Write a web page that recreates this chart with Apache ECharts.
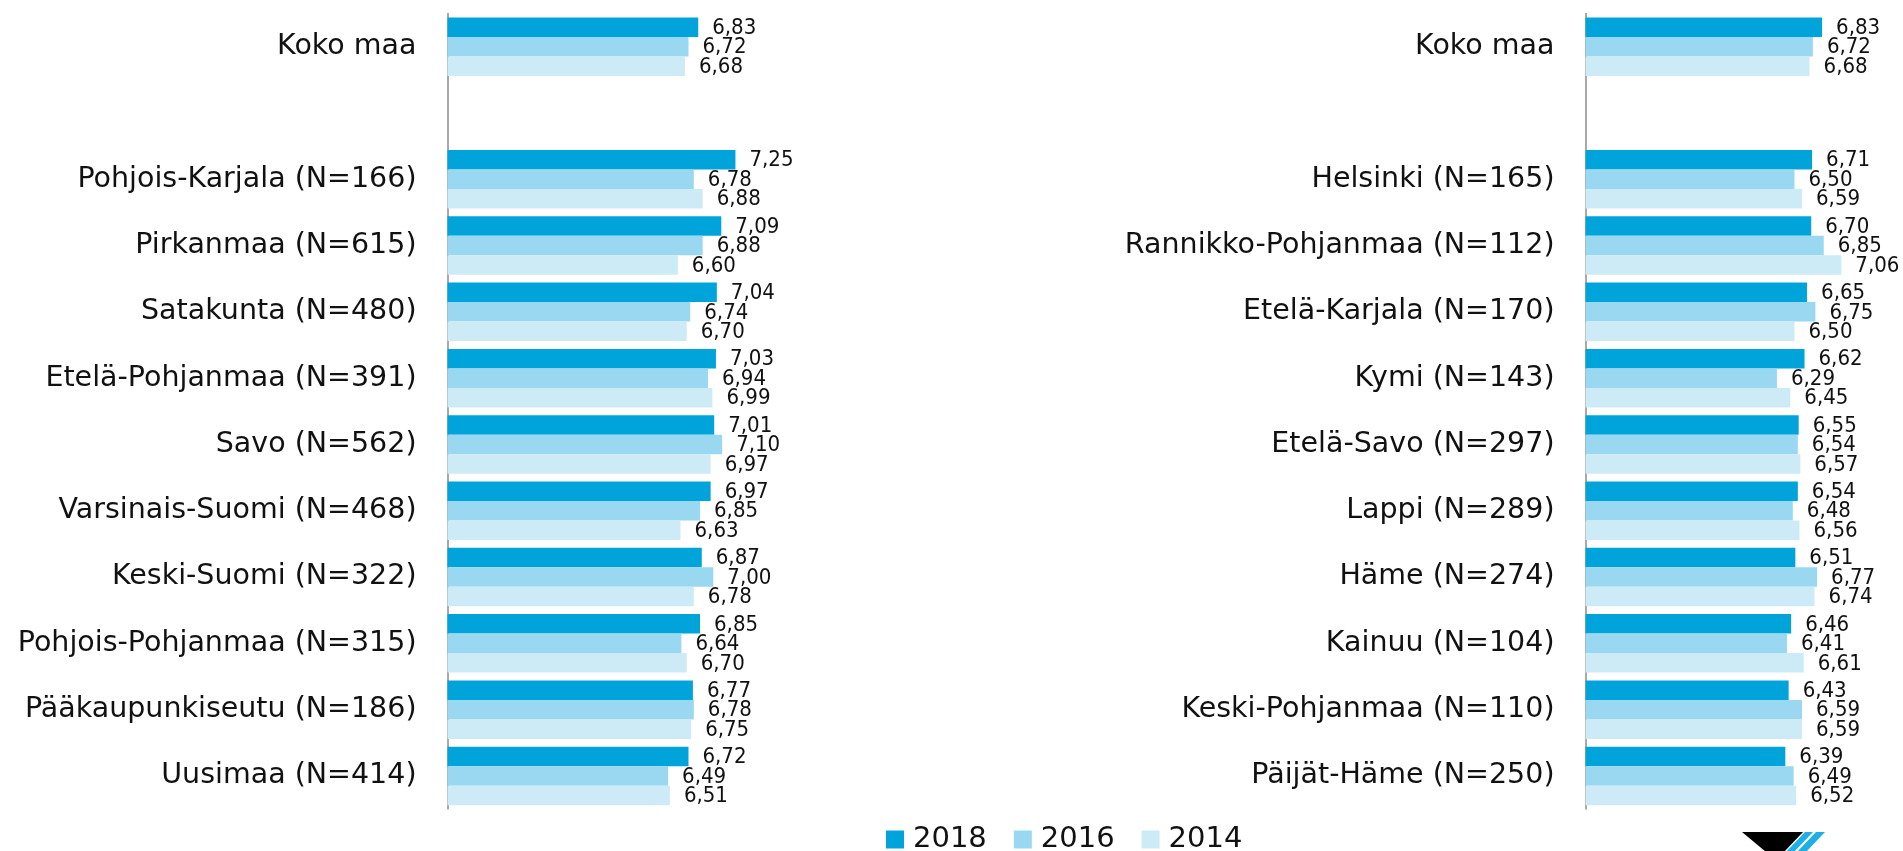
<!DOCTYPE html>
<html>
<head>
<meta charset="utf-8">
<script src="https://cdn.jsdelivr.net/npm/echarts@6/dist/echarts.min.js"></script>
<style>
  html, body { margin: 0; padding: 0; background: #fff; }
  #chart { width: 1903px; height: 851px; }
</style>
</head>
<body>
<div id="chart"></div>
<script>
// tiedot kuvasta luettuna
const years = ['2018', '2016', '2014']

const leftRegions = ['Koko maa', '', 'Pohjois-Karjala (N=166)', 'Pirkanmaa (N=615)', 'Satakunta (N=480)',
  'Etelä-Pohjanmaa (N=391)', 'Savo (N=562)', 'Varsinais-Suomi (N=468)', 'Keski-Suomi (N=322)',
  'Pohjois-Pohjanmaa (N=315)', 'Pääkaupunkiseutu (N=186)', 'Uusimaa (N=414)']
const left2018 = [6.83, null, 7.25, 7.09, 7.04, 7.03, 7.01, 6.97, 6.87, 6.85, 6.77, 6.72]
const left2016 = [6.72, null, 6.78, 6.88, 6.74, 6.94, 7.10, 6.85, 7.00, 6.64, 6.78, 6.49]
const left2014 = [6.68, null, 6.88, 6.60, 6.70, 6.99, 6.97, 6.63, 6.78, 6.70, 6.75, 6.51]

const rightRegions = ['Koko maa', '', 'Helsinki (N=165)', 'Rannikko-Pohjanmaa (N=112)', 'Etelä-Karjala (N=170)',
  'Kymi (N=143)', 'Etelä-Savo (N=297)', 'Lappi (N=289)', 'Häme (N=274)', 'Kainuu (N=104)',
  'Keski-Pohjanmaa (N=110)', 'Päijät-Häme (N=250)']
const right2018 = [6.83, null, 6.71, 6.70, 6.65, 6.62, 6.55, 6.54, 6.51, 6.46, 6.43, 6.39]
const right2016 = [6.72, null, 6.50, 6.85, 6.75, 6.29, 6.54, 6.48, 6.77, 6.41, 6.59, 6.49]
const right2014 = [6.68, null, 6.59, 7.06, 6.50, 6.45, 6.57, 6.56, 6.74, 6.61, 6.59, 6.52]

const colors = ['#00a4db', '#99d8f0', '#cdebf6']
const FONT = 'DejaVu Sans'
const FONT_NARROW = '"DejaVu Sans Condensed", "DejaVu Sans"'

const valueLabel = {
  show: true,
  position: 'right',
  distance: 14,
  offset: [0, 1],
  color: '#111',
  fontFamily: FONT_NARROW,
  fontSize: 22,
  formatter: p => p.value == null ? '' : p.value.toFixed(2).replace('.', ',')
}

const makeBar = (name, data, idx, axisIdx) => ({
  name: name,
  type: 'bar',
  xAxisIndex: axisIdx,
  yAxisIndex: axisIdx,
  data: data,
  barWidth: 19.5,
  barGap: '0%',
  itemStyle: { color: colors[idx] },
  label: valueLabel,
  silent: true
})

const yAxisBase = {
  type: 'category',
  inverse: true,
  axisLine: { show: true, lineStyle: { color: '#8c8c8c', width: 1.5 } },
  axisTick: { show: false },
  axisLabel: { color: '#111', fontFamily: FONT, fontSize: 28.5, margin: 31 },
  splitLine: { show: false }
}

const chart = echarts.init(document.getElementById('chart'))
chart.setOption({
  animation: false,
  color: colors,
  grid: [
    { left: 447.5, top: 13.5, width: 354.4, height: 795.6 },
    { left: 1585.5, top: 13.5, width: 292.6, height: 795.6 }
  ],
  xAxis: [
    { gridIndex: 0, type: 'value', min: 4, max: 8, show: false },
    { gridIndex: 1, type: 'value', min: 4, max: 7.5, show: false }
  ],
  yAxis: [
    Object.assign({ gridIndex: 0, data: leftRegions }, yAxisBase),
    Object.assign({ gridIndex: 1, data: rightRegions }, yAxisBase)
  ],
  legend: {
    data: years,
    left: 881,
    top: 820,
    icon: 'rect',
    itemWidth: 18,
    itemHeight: 18,
    itemGap: 27,
    textStyle: { color: '#111', fontFamily: FONT, fontSize: 29, padding: [0, 0, 0, 4] }
  },
  series: [
    makeBar(years[0], left2018, 0, 0),
    makeBar(years[1], left2016, 1, 0),
    makeBar(years[2], left2014, 2, 0),
    makeBar(years[0], right2018, 0, 1),
    makeBar(years[1], right2016, 1, 1),
    makeBar(years[2], right2014, 2, 1)
  ],
  graphic: [
    // logo alhaalla oikealla
    { type: 'polygon', shape: { points: [[1742, 832], [1803, 832], [1784, 852], [1766, 852]] }, style: { fill: '#000' } },
    { type: 'polygon', shape: { points: [[1805, 832], [1813, 832], [1794, 852], [1786, 852]] }, style: { fill: '#1cb0e6' } },
    { type: 'polygon', shape: { points: [[1816, 832], [1825, 832], [1806, 852], [1797, 852]] }, style: { fill: '#1cb0e6' } }
  ]
})
</script>
</body>
</html>
